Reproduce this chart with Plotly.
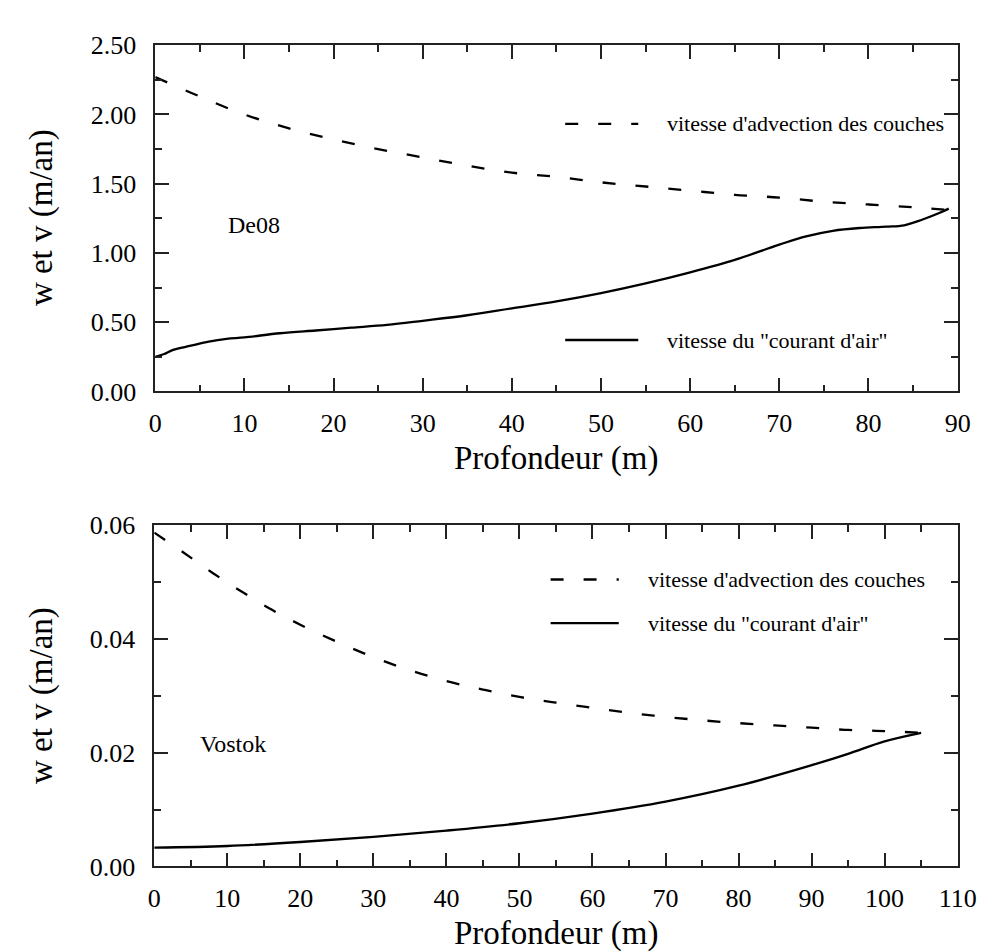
import plotly.graph_objects as go

# ---------------- data ----------------
de08_depth_w = [0, 5, 10, 15, 20, 25, 30, 35, 40, 45, 50, 55, 60, 65, 70, 75, 80, 85, 89]
de08_w = [2.27, 2.13, 2.00, 1.90, 1.82, 1.75, 1.69, 1.63, 1.58, 1.55, 1.51, 1.48, 1.45,
          1.42, 1.40, 1.37, 1.35, 1.33, 1.31]

de08_depth_v = [0, 1, 2, 4, 6, 8, 10, 14, 18, 22, 26, 30, 35, 40, 45, 50, 55, 60, 65, 70,
                73, 76, 79, 82, 84, 86, 88, 89]
de08_v = [0.25, 0.27, 0.30, 0.33, 0.36, 0.38, 0.39, 0.42, 0.44, 0.46, 0.48, 0.51, 0.55,
          0.60, 0.65, 0.71, 0.78, 0.86, 0.95, 1.06, 1.12, 1.16, 1.18, 1.19, 1.20, 1.24,
          1.29, 1.32]

vk_depth_w = [0, 4, 8, 12, 16, 20, 25, 30, 35, 40, 45, 50, 55, 60, 65, 70, 75, 80, 85,
              90, 95, 100, 105]
vk_w = [0.0587, 0.0552, 0.0516, 0.0483, 0.0452, 0.0425, 0.0395, 0.0368, 0.0345, 0.0326,
        0.0311, 0.0298, 0.0288, 0.0279, 0.0270, 0.0263, 0.0257, 0.0252, 0.0248, 0.0244,
        0.0240, 0.0238, 0.0235]

vk_depth_v = [0, 10, 20, 30, 40, 50, 60, 70, 80, 90, 95, 100, 105]
vk_v = [0.0033, 0.0036, 0.0043, 0.0052, 0.0063, 0.0076, 0.0093, 0.0114, 0.0142, 0.0178,
        0.0198, 0.0220, 0.0235]

x_title = "Profondeur (m)"
y_title = "w et v (m/an)"
leg_w = "vitesse d'advection des couches"
leg_v = 'vitesse du "courant d\'air"'
label_top = "De08"
label_bot = "Vostok"

# ---------------- layout helpers ----------------
W, H = 993, 952
FONT = "Liberation Serif, Times New Roman, serif"


def px(x):
    return x / W


def py(y):
    return 1 - y / H


DASH = "13px,20px"
LW = 2.3

fig = go.Figure()
fig.add_trace(go.Scatter(x=de08_depth_w, y=de08_w, mode="lines", line_shape="spline",
                         line=dict(color="black", width=LW, dash=DASH),
                         xaxis="x", yaxis="y", showlegend=False))
fig.add_trace(go.Scatter(x=de08_depth_v, y=de08_v, mode="lines", line_shape="spline",
                         line=dict(color="black", width=LW),
                         xaxis="x", yaxis="y", showlegend=False))
fig.add_trace(go.Scatter(x=vk_depth_w, y=vk_w, mode="lines", line_shape="spline",
                         line=dict(color="black", width=LW, dash=DASH),
                         xaxis="x2", yaxis="y2", showlegend=False))
fig.add_trace(go.Scatter(x=vk_depth_v, y=vk_v, mode="lines", line_shape="spline",
                         line=dict(color="black", width=LW),
                         xaxis="x2", yaxis="y2", showlegend=False))

axis_common = dict(
    showgrid=False, zeroline=False, showline=True, linecolor="#222", linewidth=1.5,
    mirror="ticks", ticks="inside", ticklen=14, tickwidth=1.5, tickcolor="#222",
    tickfont=dict(family=FONT, size=26, color="black"),
)

fig.update_layout(
    width=W, height=H, margin=dict(l=0, r=0, t=0, b=0),
    paper_bgcolor="white", plot_bgcolor="white", showlegend=False,
    xaxis=dict(domain=[px(144), px(968)], range=[0, 90], dtick=10, anchor="y",
               minor=dict(dtick=5, ticklen=7, ticks="inside", tickcolor="#222", tickwidth=1.5),
               ticklabelstandoff=8, **axis_common),
    yaxis=dict(domain=[py(381), py(24)], range=[0, 2.5], dtick=0.5, tickformat=".2f",
               anchor="x",
               minor=dict(dtick=0.25, ticklen=7, ticks="inside", tickcolor="#222", tickwidth=1.5),
               ticklabelstandoff=12, **axis_common),
    xaxis2=dict(domain=[px(143), px(968)], range=[0, 110], dtick=10, anchor="y2",
                minor=dict(dtick=5, ticklen=7, ticks="inside", tickcolor="#222", tickwidth=1.5),
                ticklabelstandoff=8, **axis_common),
    yaxis2=dict(domain=[py(871), py(519)], range=[0, 0.06], dtick=0.02, tickformat=".2f",
                anchor="x2",
                minor=dict(dtick=0.01, ticklen=7, ticks="inside", tickcolor="#222", tickwidth=1.5),
                ticklabelstandoff=12, **axis_common),
)

ann = []
tfont = dict(family=FONT, size=33, color="black")
lfont = dict(family=FONT, size=22, color="black")
# axis titles
ann.append(dict(text=x_title, x=px(556), y=py(450), xref="paper", yref="paper",
                showarrow=False, font=tfont, xanchor="center", yanchor="middle"))
ann.append(dict(text=x_title, x=px(556), y=py(940), xref="paper", yref="paper",
                showarrow=False, font=tfont, xanchor="center", yanchor="middle"))
ann.append(dict(text=y_title, x=px(28), y=py(202), xref="paper", yref="paper", textangle=-90,
                showarrow=False, font=tfont, xanchor="center", yanchor="middle"))
ann.append(dict(text=y_title, x=px(28), y=py(695), xref="paper", yref="paper", textangle=-90,
                showarrow=False, font=tfont, xanchor="center", yanchor="middle"))
# site labels
ann.append(dict(text=label_top, x=px(217), y=py(209), xref="paper", yref="paper",
                showarrow=False, font=dict(family=FONT, size=24, color="black"),
                xanchor="left", yanchor="middle"))
ann.append(dict(text=label_bot, x=px(188), y=py(745), xref="paper", yref="paper",
                showarrow=False, font=dict(family=FONT, size=24, color="black"),
                xanchor="left", yanchor="middle"))
# legend texts
ann.append(dict(text=leg_w, x=px(667), y=py(105), xref="paper", yref="paper",
                showarrow=False, font=lfont, xanchor="left", yanchor="middle"))
ann.append(dict(text=leg_v, x=px(667), y=py(328), xref="paper", yref="paper",
                showarrow=False, font=lfont, xanchor="left", yanchor="middle"))
ann.append(dict(text=leg_w, x=px(648), y=py(575), xref="paper", yref="paper",
                showarrow=False, font=lfont, xanchor="left", yanchor="middle"))
ann.append(dict(text=leg_v, x=px(648), y=py(620), xref="paper", yref="paper",
                showarrow=False, font=lfont, xanchor="left", yanchor="middle"))

shapes = [
    dict(type="line", xref="paper", yref="paper", x0=px(565), x1=px(640), y0=py(105), y1=py(105),
         line=dict(color="black", width=LW, dash=DASH)),
    dict(type="line", xref="paper", yref="paper", x0=px(565), x1=px(640), y0=py(328), y1=py(328),
         line=dict(color="black", width=LW)),
    dict(type="line", xref="paper", yref="paper", x0=px(550), x1=px(620), y0=py(575), y1=py(575),
         line=dict(color="black", width=LW, dash=DASH)),
    dict(type="line", xref="paper", yref="paper", x0=px(550), x1=px(620), y0=py(620), y1=py(620),
         line=dict(color="black", width=LW)),
]
fig.update_layout(annotations=ann, shapes=shapes)

fig.write_html("out.html")
